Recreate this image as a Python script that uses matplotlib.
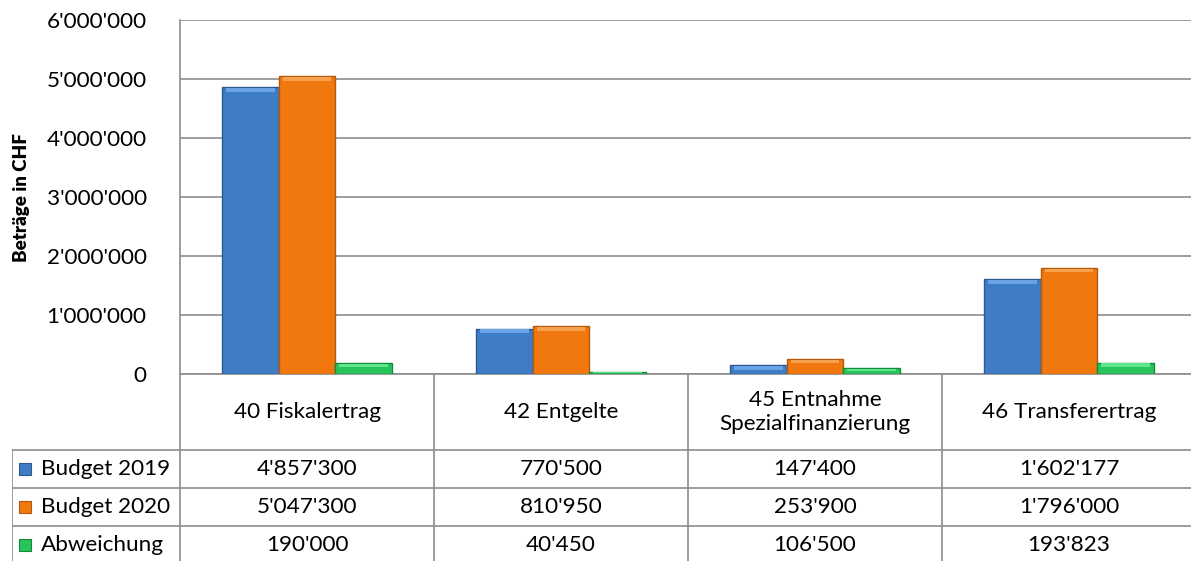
import numpy as np
import matplotlib.pyplot as plt

# Daten
kategorien = ['40 Fiskalertrag', '42 Entgelte', '45 Entnahme\nSpezialfinanzierung', '46 Transferertrag']
serien = ['Budget 2019', 'Budget 2020', 'Abweichung']
budget_2019 = [4857300, 770500, 147400, 1602177]
budget_2020 = [5047300, 810950, 253900, 1796000]
abweichung = [190000, 40450, 106500, 193823]
y_ticks = [0, 1000000, 2000000, 3000000, 4000000, 5000000, 6000000]

farben = ['#3f7cc6', '#f1780f', '#27c35c']
kanten = ['#2b5990', '#b5590a', '#168a3c']
hell = ['#6aa3e6', '#f7a04e', '#5fe58c']
grau = '#8c8c8c'

plt.rcParams['font.family'] = ['Lato', 'DejaVu Sans']
fs = 16.2


def fmt(v):
    return f"{v:,}".replace(',', "'")


W, H = 1191, 561
fig = plt.figure(figsize=(W / 100, H / 100), dpi=100)

# Hauptdiagramm (Pixelgrenzen: links 180, rechts 1196, oben 20, unten 374)
ax = fig.add_axes([180 / W, (H - 374) / H, (1196 - 180) / W, (374 - 20) / H])
x = np.arange(len(kategorien))
bw = 0.224
werte = [budget_2019, budget_2020, abweichung]
kante_oben = 60000  # Höhe der hellen Oberkante (Bevel-Effekt)
for i, vals in enumerate(werte):
    ax.bar(x + (i - 1) * bw, vals, bw, color=farben[i], edgecolor=kanten[i],
           linewidth=1.0, zorder=3)
    vals = np.array(vals)
    h = np.minimum(kante_oben, vals * 0.4)
    ax.bar(x + (i - 1) * bw, h, bw * 0.86, bottom=vals - h - 15000,
           color=hell[i], linewidth=0, zorder=4)

ax.set_xlim(-0.5, len(kategorien) - 0.5)
ax.set_ylim(0, 6000000)
ax.set_yticks(y_ticks)
ax.set_yticklabels([fmt(v) for v in y_ticks], fontsize=fs)
ax.tick_params(axis='y', length=0, pad=24)
ax.set_xticks([])
ax.grid(axis='y', color=grau, linewidth=1.2, zorder=0)
for s in ['top', 'right']:
    ax.spines[s].set_visible(False)
for s in ['left', 'bottom']:
    ax.spines[s].set_color(grau)
    ax.spines[s].set_linewidth(1.2)
ax.set_ylabel('Beträge in CHF', fontsize=13.5, fontweight='heavy', labelpad=12)

# Datentabelle unterhalb (Kopfzeile 2 Einheiten, Datenzeilen je 1 Einheit)
links = -0.5 - (180 - 12) / 254
tx = fig.add_axes([12 / W, (H - 564) / H, (1196 - 12) / W, 190 / H])
tx.set_xlim(links, len(kategorien) - 0.5)
tx.set_ylim(0, 5)
tx.axis('off')

lw = 1.2
# senkrechte Linien
tx.plot([-0.5, -0.5], [0, 5], color=grau, lw=lw)
tx.plot([links, links], [0, 3], color=grau, lw=lw)
for k in range(len(kategorien)):
    tx.plot([k + 0.5, k + 0.5], [0, 5], color=grau, lw=lw)
# waagrechte Linien
for r in range(1, 4):
    tx.plot([links, len(kategorien) - 0.5], [r, r], color=grau, lw=lw)

for k, name in enumerate(kategorien):
    tx.text(k, 4.0, name, ha='center', va='center', fontsize=fs,
            linespacing=1.2)

for i, (name, vals) in enumerate(zip(serien, werte)):
    yr = 2.5 - i
    tx.scatter([links + 0.05], [yr], marker='s', s=75, color=farben[i],
               edgecolor=kanten[i], linewidth=0.8, clip_on=False)
    tx.text(links + 0.115, yr, name, ha='left', va='center', fontsize=fs)
    for k, v in enumerate(vals):
        tx.text(k, yr, fmt(v), ha='center', va='center', fontsize=fs)

fig.savefig('out.png', dpi=100)
